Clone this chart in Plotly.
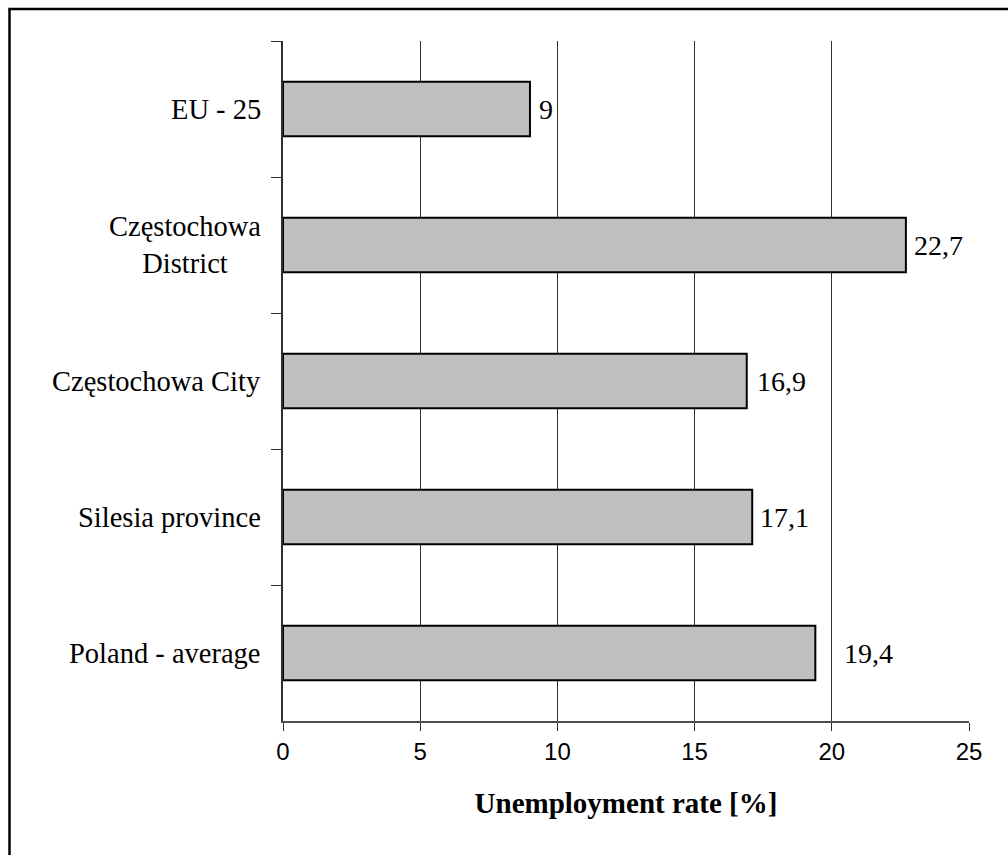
import plotly.graph_objects as go

categories = ["EU - 25", "Częstochowa<br>District", "Częstochowa City", "Silesia province", "Poland - average"]
values = [9, 22.7, 16.9, 17.1, 19.4]
value_labels = ["9", "22,7", "16,9", "17,1", "19,4"]
x_ticks = [0, 5, 10, 15, 20, 25]

W, H = 1008, 855
L, R, T, B = 283, 39, 41, 134
pw, ph = W - L - R, H - T - B

label_shift = [9, 8, 10, 8, 29]

fig = go.Figure()
fig.add_trace(go.Bar(
    x=values, y=categories, orientation="h",
    width=0.4,
    marker=dict(color="#C0C0C0", line=dict(color="black", width=2)),
    hoverinfo="x+y",
))

annotations = []
for c, v, t, s in zip(categories, values, value_labels, label_shift):
    annotations.append(dict(
        x=v, y=c, xref="x", yref="y", text=t, showarrow=False,
        xanchor="left", yanchor="middle", xshift=s - 2,
        font=dict(family="Liberation Serif", size=28, color="black"),
    ))
    annotations.append(dict(
        x=0, y=c, xref="paper", yref="y", text=c, showarrow=False,
        xanchor="right", yanchor="middle", xshift=-20, align="center",
        font=dict(family="Liberation Serif", size=28.5, color="black"),
    ))

fig.update_layout(
    width=W, height=H,
    margin=dict(l=L, r=R, t=T, b=B, autoexpand=False),
    paper_bgcolor="white", plot_bgcolor="white",
    showlegend=False,
    annotations=annotations,
    xaxis=dict(
        range=[0, 25], tickvals=x_ticks, ticktext=[str(v) for v in x_ticks],
        showgrid=True, gridcolor="#303030", gridwidth=1,
        showline=True, linecolor="#505050", linewidth=1.5,
        ticks="outside", ticklen=8, tickcolor="#303030", tickwidth=1,
        tickfont=dict(family="Liberation Sans", size=24, color="black"),
        zeroline=False, automargin=False,
        title=dict(text="<b>Unemployment rate [%]</b>", standoff=29,
                   font=dict(family="Liberation Serif", size=29, color="black")),
    ),
    yaxis=dict(
        type="category", categoryorder="array", categoryarray=categories,
        autorange="reversed",
        tickson="boundaries", ticks="outside", ticklen=10, tickcolor="#303030", tickwidth=1,
        showticklabels=False, showgrid=False,
        showline=True, linecolor="#303030", linewidth=1.5,
        zeroline=False, automargin=False,
    ),
    bargap=0.6,
    shapes=[dict(
        type="rect", xref="paper", yref="paper",
        x0=(9.5 - L) / pw, x1=(W + 10 - L) / pw,
        y0=(T + ph - (H + 10)) / ph, y1=(T + ph - 9) / ph,
        line=dict(color="black", width=2.5), fillcolor="rgba(0,0,0,0)", layer="above",
    )],
)

fig.write_html("out.html")
